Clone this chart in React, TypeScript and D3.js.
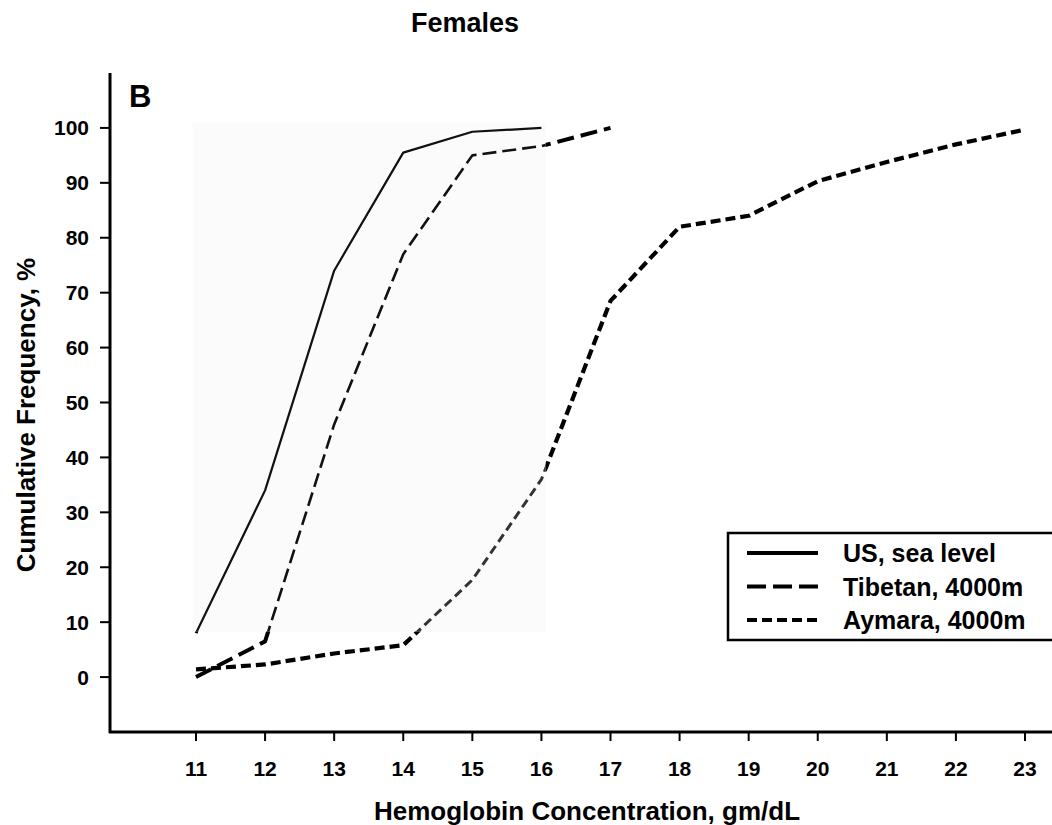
import React from "react";
import * as d3 from "d3";

// hemoglobin concentration (gm/dL) and cumulative frequency (%)
const hbUS = [11, 12, 13, 14, 15, 16];
const usSeaLevel = [8, 34, 74, 95.5, 99.3, 100];
const hbTibetan = [11, 12, 13, 14, 15, 16, 17];
const tibetan = [0, 6.5, 46, 77, 95, 96.7, 100];
const hbAymara = [11, 12, 13, 14, 15, 16, 17, 18, 19, 20, 21, 22, 23];
const aymara = [1.4, 2.3, 4.3, 5.8, 17.7, 36, 68.5, 82, 84, 90.3, 93.8, 97, 99.7];

const xTicks = [11, 12, 13, 14, 15, 16, 17, 18, 19, 20, 21, 22, 23];
const yTicks = [0, 10, 20, 30, 40, 50, 60, 70, 80, 90, 100];
const legendLabels = ["US, sea level", "Tibetan, 4000m", "Aymara, 4000m"];

const W = 1052;
const H = 825;
const FONT = "'Liberation Sans', Arial, Helvetica, sans-serif";

const x = d3.scaleLinear().domain([11, 23]).range([196, 1025]);
const y = d3.scaleLinear().domain([-10, 110]).range([732, 73]);

type Series = {
  name: string;
  xs: number[];
  ys: number[];
  thin: { w: number; dash: string; color: string };
  thick: { w: number; dash: string };
  legendDash: string;
};

const series: Series[] = [
  {
    name: legendLabels[0], xs: hbUS, ys: usSeaLevel,
    thin: { w: 2.2, dash: "none", color: "#111" },
    thick: { w: 3, dash: "none" },
    legendDash: "none",
  },
  {
    name: legendLabels[1], xs: hbTibetan, ys: tibetan,
    thin: { w: 2.6, dash: "14,6", color: "#111" },
    thick: { w: 4, dash: "17,7" },
    legendDash: "19,7",
  },
  {
    name: legendLabels[2], xs: hbAymara, ys: aymara,
    thin: { w: 3, dash: "9,5", color: "#333" },
    thick: { w: 4.2, dash: "10,5" },
    legendDash: "10,5",
  },
];

const line = d3.line<[number, number]>().x(d => x(d[0])).y(d => y(d[1]));

export default function App() {
  // faint pasted-in panel behind the left part of the plot
  const px0 = x(10.95), px1 = x(16.06), py0 = y(101), py1 = y(8.3);
  const outside = `M0,0H${W}V${H}H0Z M${px0},${py0}V${py1}H${px1}V${py0}Z`;

  return (
    <svg width={W} height={H} style={{ position: "absolute", left: 0, top: 0, background: "#fff" }}
      fontFamily={FONT} fontWeight="bold">
      <defs>
        <clipPath id="inPanel">
          <rect x={px0} y={py0} width={px1 - px0} height={py1 - py0} />
        </clipPath>
        <clipPath id="outPanel">
          <path d={outside} clipRule="evenodd" />
        </clipPath>
      </defs>

      <text x={465} y={32} textAnchor="middle" fontSize={27}>Females</text>
      <text x={129} y={107} fontSize={31}>B</text>

      <rect x={px0} y={py0} width={px1 - px0} height={py1 - py0} fill="#fbfbfb" />

      {/* axes */}
      <line x1={110} y1={73} x2={110} y2={733} stroke="#000" strokeWidth={3} />
      <line x1={109} y1={732} x2={W} y2={732} stroke="#000" strokeWidth={3} />
      {yTicks.map(t => (
        <g key={t}>
          <line x1={100} x2={110} y1={y(t)} y2={y(t)} stroke="#000" strokeWidth={2} />
          <text x={89} y={y(t)} dy="0.36em" textAnchor="end" fontSize={21}>{t}</text>
        </g>
      ))}
      {xTicks.map(t => (
        <g key={t}>
          <line x1={x(t)} x2={x(t)} y1={732} y2={741} stroke="#000" strokeWidth={2} />
          <text x={x(t)} y={768} dy="0.36em" textAnchor="middle" fontSize={21}>{t}</text>
        </g>
      ))}
      <text x={587} y={820} textAnchor="middle" fontSize={26}>Hemoglobin Concentration, gm/dL</text>
      <text transform="translate(35,415) rotate(-90)" textAnchor="middle" fontSize={26}>Cumulative Frequency, %</text>

      {/* series */}
      {series.map(s => {
        const d = line(s.xs.map((v, i) => [v, s.ys[i]] as [number, number])) || "";
        return (
          <g key={s.name} fill="none" strokeLinejoin="round">
            <path d={d} clipPath="url(#inPanel)" stroke={s.thin.color} strokeWidth={s.thin.w}
              strokeDasharray={s.thin.dash} />
            <path d={d} clipPath="url(#outPanel)" stroke="#000" strokeWidth={s.thick.w}
              strokeDasharray={s.thick.dash} />
          </g>
        );
      })}

      {/* legend */}
      <g transform="translate(728,533)">
        <rect x={0} y={0} width={340} height={107} fill="#fff" stroke="#000" strokeWidth={2.5} />
        {series.map((s, i) => (
          <g key={s.name} transform={`translate(0,${20 + i * 33.5})`}>
            <line x1={19} x2={90} y1={0} y2={0} stroke="#000" strokeWidth={4}
              strokeDasharray={s.legendDash} />
            <text x={115} y={0} dy="0.36em" fontSize={25}>{s.name}</text>
          </g>
        ))}
      </g>
    </svg>
  );
}
